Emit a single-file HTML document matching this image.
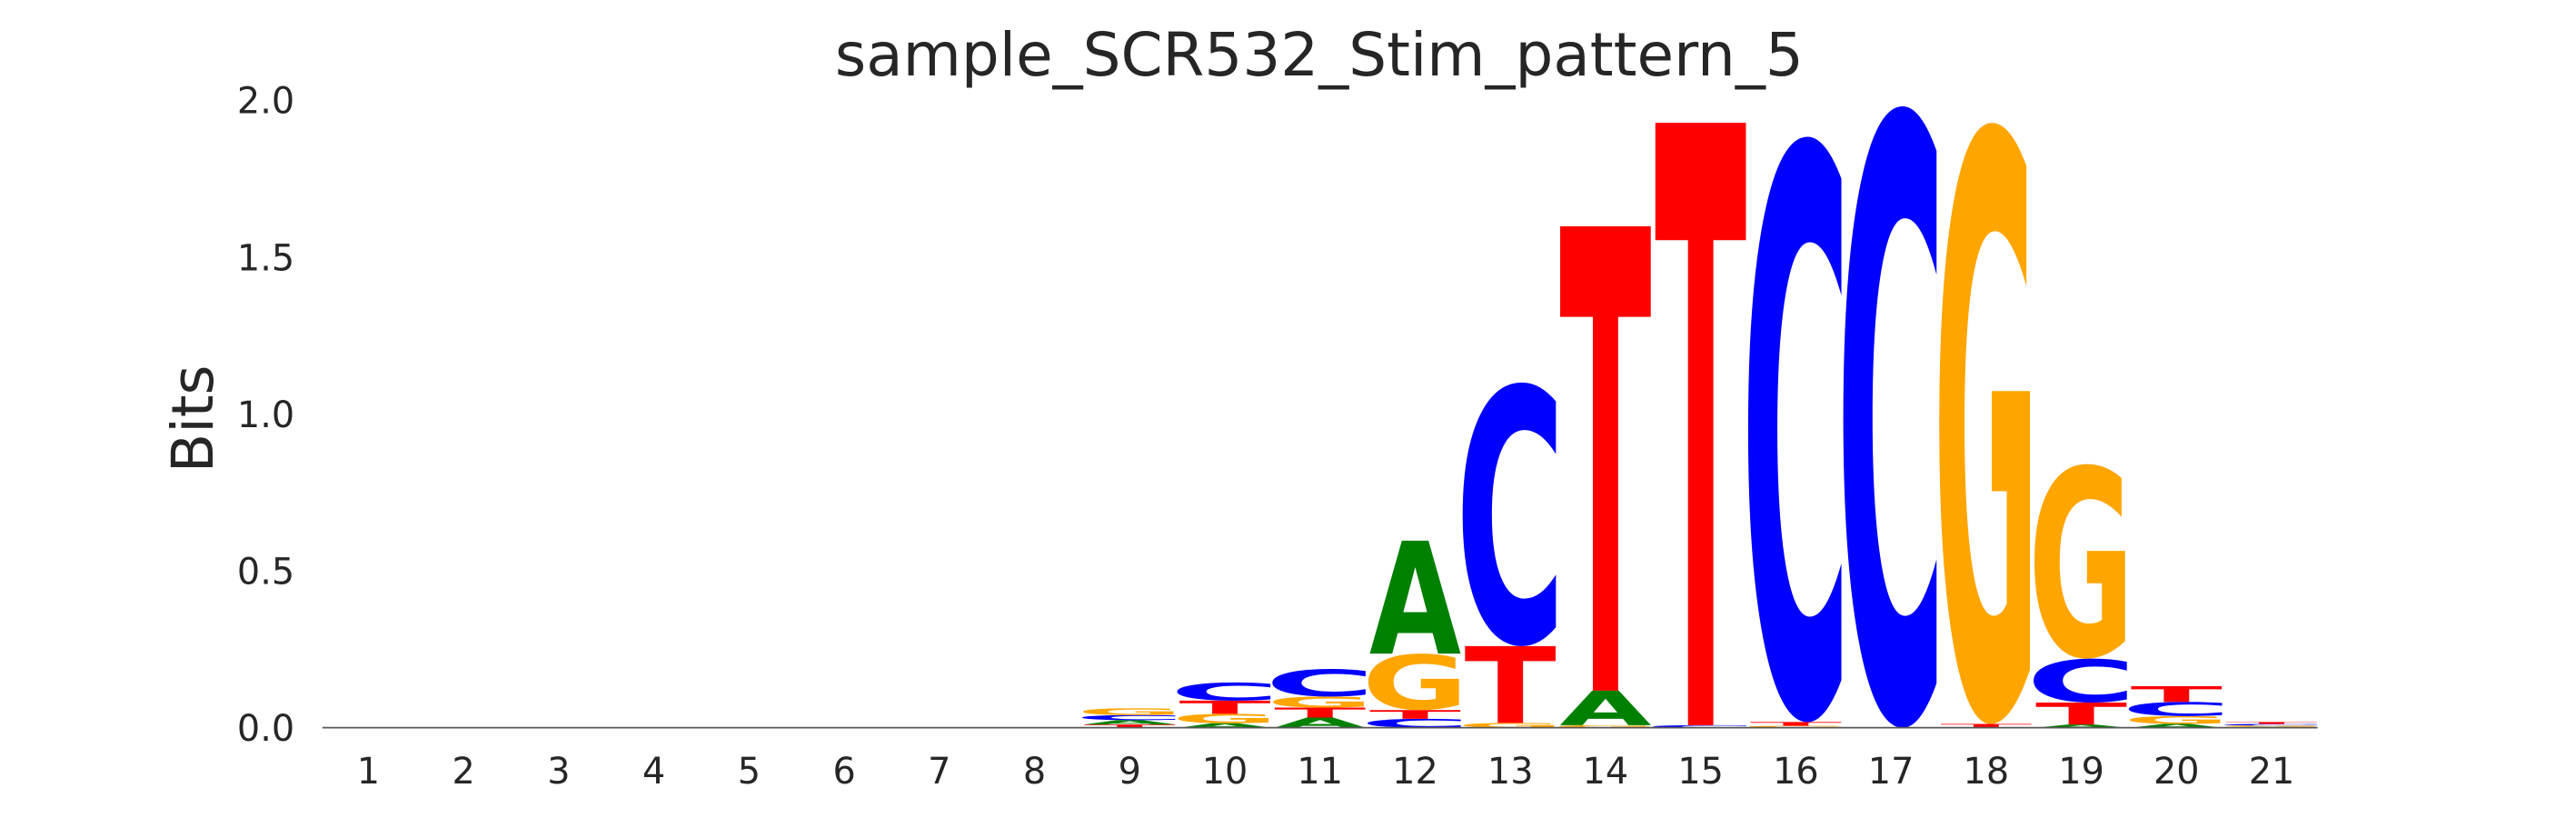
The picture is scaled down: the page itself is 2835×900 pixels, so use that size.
<!DOCTYPE html>
<html><head><meta charset="utf-8">
<style>html,body{margin:0;padding:0;background:#fff;width:2835px;height:900px;overflow:hidden;}svg{display:block;}</style>
</head><body>
<svg id="chart" width="2835" height="900" viewBox="0 0 1568 498" xmlns="http://www.w3.org/2000/svg">
<rect width="1568" height="498" fill="#fff"/>
<text x="803" y="46" text-anchor="middle" font-family="'DejaVu Sans','Liberation Sans',sans-serif" font-size="36.5" fill="#262626">sample_SCR532_Stim_pattern_5</text>
<text transform="translate(129,255) rotate(-90)" text-anchor="middle" font-family="'DejaVu Sans','Liberation Sans',sans-serif" font-size="35" fill="#262626">Bits</text>
<g id="yticks"></g>
<g id="xticks"></g>
<g id="letters"></g>
<line x1="196" y1="443" x2="1411" y2="443" stroke="#555" stroke-width="1"/>
</svg>
<script>
const positions = [1,2,3,4,5,6,7,8,9,10,11,12,13,14,15,16,17,18,19,20,21];
const yTickValues = [0.0, 0.5, 1.0, 1.5, 2.0];
const yTickLabels = ["0.0","0.5","1.0","1.5","2.0"];
// stacked letters per position, bottom to top: [letter, bits]
const stacks = [
  [],[],[],[],[],[],[],[],
  [["T",0.01],["A",0.014],["C",0.016],["G",0.022]],
  [["A",0.014],["G",0.03],["T",0.042],["C",0.058]],
  [["A",0.032],["T",0.032],["G",0.035],["C",0.088]],
  [["C",0.028],["T",0.028],["G",0.18],["A",0.36]],
  [["G",0.015],["T",0.245],["C",0.84]],
  [["G",0.008],["A",0.11],["T",1.48]],
  [["C",0.008],["T",1.92]],
  [["G",0.006],["T",0.012],["C",1.865]],
  [["C",1.98]],
  [["T",0.012],["G",1.915]],
  [["A",0.01],["T",0.07],["C",0.14],["G",0.62]],
  [["A",0.012],["G",0.025],["C",0.045],["T",0.05]],
  [["A",0.003],["G",0.004],["C",0.005],["T",0.006]]
];
const colors = {A:"#008000",C:"#0000ff",G:"#ffa500",T:"#ff0000"};
// glyph vertical extents (em): [bottom, top]
const glyphExt = {A:[0,0.729],T:[0,0.729],C:[-0.014,0.742],G:[-0.014,0.742]};
// horizontal stretch factor to compensate side bearings
const glyphW = {A:1.0,T:1.0,C:1.2,G:1.16};
const NS = "http://www.w3.org/2000/svg";
const y0 = 443, pxPerBit = 191;
const xFirst = 224, xStep = 57.95, colW = 56;
function yScale(v){ return y0 - v*pxPerBit; }
function xScale(p){ return xFirst + (p-1)*xStep; }
const yt = document.getElementById('yticks');
yTickValues.forEach((v,i)=>{
  const t = document.createElementNS(NS,'text');
  
  
  t.setAttribute('x',179); t.setAttribute('y',yScale(v)+8);
  t.setAttribute('text-anchor','end');
  t.setAttribute('font-family',"'DejaVu Sans','Liberation Sans',sans-serif");
  t.setAttribute('font-size','22'); t.setAttribute('fill','#262626');
  t.textContent = yTickLabels[i];
  yt.appendChild(t);
});
const xt = document.getElementById('xticks');
positions.forEach(p=>{
  const t = document.createElementNS(NS,'text');
  
  
  t.setAttribute('x',xScale(p)); t.setAttribute('y',477);
  t.setAttribute('text-anchor','middle');
  t.setAttribute('font-family',"'DejaVu Sans','Liberation Sans',sans-serif");
  t.setAttribute('font-size','22'); t.setAttribute('fill','#262626');
  t.textContent = p;
  xt.appendChild(t);
});
const lg = document.getElementById('letters');
const fs = 100;
stacks.forEach((stack,i)=>{
  const p = positions[i];
  const cx = xScale(p);
  let base = 0;
  stack.forEach(([L,h])=>{
    const yb = yScale(base), ytop = yScale(base+h);
    const hpx = yb - ytop;
    base += h;
    if (hpx <= 0) return;
    const ext = glyphExt[L];
    const gh = (ext[1]-ext[0])*fs;
    const sy = hpx/gh;
    const ty = yb + ext[0]*fs*sy;
    const w = colW*glyphW[L];
    const t = document.createElementNS(NS,'text');
    
    
    t.setAttribute('x',0); t.setAttribute('y',0);
    t.setAttribute('font-family',"'DejaVu Sans','Liberation Sans',sans-serif");
    t.setAttribute('font-weight','bold');
    t.setAttribute('font-size',fs);
    t.setAttribute('textLength',w);
    t.setAttribute('lengthAdjust','spacingAndGlyphs');
    t.setAttribute('fill',colors[L]);
    t.setAttribute('transform','translate('+(cx-w/2)+','+ty+') scale(1,'+sy+')');
    t.textContent = L;
    lg.appendChild(t);
  });
});
</script>
</body></html>
